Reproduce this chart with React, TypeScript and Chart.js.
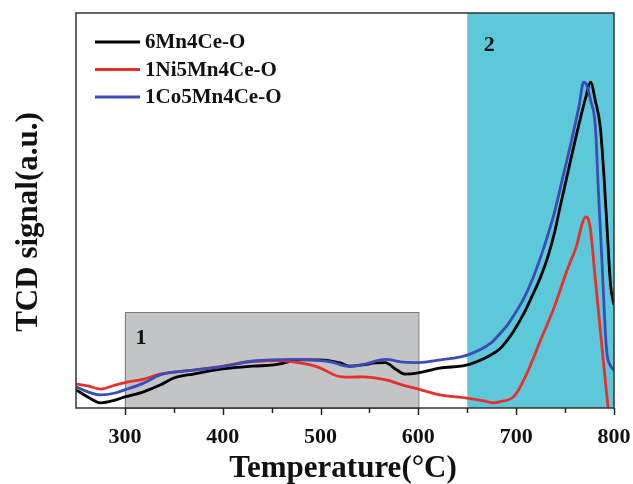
import React, { useEffect, useRef } from "react";
import { Chart, registerables } from "chart.js";

Chart.register(...registerables);

const seriesNames = ["6Mn4Ce-O", "1Ni5Mn4Ce-O", "1Co5Mn4Ce-O"];
const seriesColors = ["#000000", "#e8302a", "#3a4cb5"];

const blackT = [250, 262, 275, 290, 300, 319, 336, 350, 370, 400, 431, 452, 480, 500, 520, 530, 543, 556, 566, 578, 586, 600, 622, 650, 674, 684, 691, 698, 708, 716, 725, 732, 739, 745, 755, 765, 771, 776, 781, 786, 790, 793, 796.5, 800];
const blackV = [4.6, 2.8, 1.3, 2.0, 2.8, 4.1, 5.8, 7.6, 8.6, 9.9, 10.6, 10.9, 12.2, 12.2, 11.4, 10.6, 10.9, 11.4, 11.5, 9.6, 8.6, 8.9, 10.1, 10.9, 13.4, 15.1, 17.2, 19.7, 24.0, 28.2, 33.2, 38.0, 44.2, 51.0, 62.0, 72.7, 78.5, 82.5, 77.7, 71.1, 57.7, 45.1, 31.1, 26.1];

const redT = [250, 262, 275, 290, 300, 319, 336, 370, 400, 424, 455, 472, 490, 500, 517, 530, 543, 567, 584, 600, 622, 650, 667, 677, 684, 698, 711, 725, 739, 752, 762, 768, 771, 774, 776, 781, 786, 791, 794];
const redV = [6.1, 5.6, 4.8, 5.8, 6.4, 7.3, 8.6, 9.6, 10.6, 11.6, 12.0, 11.7, 10.9, 10.1, 8.1, 7.8, 7.9, 7.1, 5.8, 4.8, 3.3, 2.5, 1.8, 1.3, 1.6, 3.0, 8.8, 17.2, 25.6, 34.9, 41.3, 47.1, 48.4, 47.6, 45.1, 32.4, 19.7, 7.1, 0];

const blueT = [250, 262, 275, 290, 300, 319, 336, 370, 400, 431, 472, 500, 510, 530, 545, 566, 585, 600, 623, 650, 674, 684, 691, 698, 708, 716, 725, 732, 739, 747, 756, 764, 769, 772, 776, 781, 784, 787.5, 791, 793, 796, 800];
const blueV = [5.4, 4.1, 3.3, 3.8, 4.6, 6.3, 8.4, 9.6, 10.5, 11.9, 12.3, 12.0, 11.7, 10.5, 11.1, 12.3, 11.6, 11.5, 12.2, 13.4, 16.4, 19.0, 21.0, 23.6, 27.8, 32.2, 38.2, 43.5, 49.4, 57.7, 67.1, 76.1, 82.5, 81.8, 78.0, 71.1, 55.2, 38.2, 19.7, 13.4, 10.9, 9.6];

const xTickValues = [300, 400, 500, 600, 700, 800];
const region1 = { from: 300, to: 600, top: 24.3, label: "1" };
const region2 = { from: 650, to: 800, label: "2" };

const toPoints = (t: number[], v: number[]) => t.map((x, i) => ({ x, y: v[i] }));

const SERIF = "'Liberation Serif', 'DejaVu Serif', serif";

const decorPlugin = {
  id: "decor",
  beforeDatasetsDraw(chart: any) {
    const { ctx, chartArea, scales } = chart;
    const xs = scales.x;
    const ys = scales.y;
    ctx.save();
    const c1 = xs.getPixelForValue(region2.from);
    const c2 = xs.getPixelForValue(region2.to);
    ctx.fillStyle = "#5ec8db";
    ctx.fillRect(c1, chartArea.top, c2 - c1, chartArea.bottom - chartArea.top);
    const g1 = xs.getPixelForValue(region1.from);
    const g2 = xs.getPixelForValue(region1.to);
    const gt = ys.getPixelForValue(region1.top);
    ctx.fillStyle = "#c3c4c6";
    ctx.fillRect(g1, gt, g2 - g1, chartArea.bottom - gt);
    ctx.strokeStyle = "#777777";
    ctx.lineWidth = 1;
    ctx.strokeRect(g1 + 0.5, gt + 0.5, g2 - g1, chartArea.bottom - gt);
    ctx.fillStyle = "#111";
    ctx.font = `bold 22px ${SERIF}`;
    ctx.textAlign = "center";
    ctx.textBaseline = "middle";
    ctx.fillText(region1.label, g1 + 16, gt + 26);
    ctx.fillText(region2.label, c1 + 22, chartArea.top + 32);
    ctx.restore();
  },
  afterDraw(chart: any) {
    const { ctx, chartArea, scales } = chart;
    const xs = scales.x;
    ctx.save();
    ctx.strokeStyle = "#333";
    ctx.lineWidth = 1.5;
    ctx.strokeRect(chartArea.left, chartArea.top, chartArea.right - chartArea.left, chartArea.bottom - chartArea.top);
    ctx.strokeStyle = "#222";
    ctx.lineWidth = 1.5;
    for (let t = 300; t <= 800; t += 50) {
      const px = Math.round(xs.getPixelForValue(t)) + 0.5;
      const len = t % 100 === 0 ? 7 : 5;
      ctx.beginPath();
      ctx.moveTo(px, chartArea.bottom);
      ctx.lineTo(px, chartArea.bottom + len);
      ctx.stroke();
    }
    ctx.font = `bold 21px ${SERIF}`;
    ctx.textAlign = "left";
    ctx.textBaseline = "middle";
    seriesNames.forEach((name, i) => {
      const y = chartArea.top + 29 + i * 27.5;
      ctx.strokeStyle = seriesColors[i];
      ctx.lineWidth = 2.8;
      ctx.beginPath();
      ctx.moveTo(chartArea.left + 19, y);
      ctx.lineTo(chartArea.left + 64, y);
      ctx.stroke();
      ctx.fillStyle = "#111";
      ctx.fillText(name, chartArea.left + 69, y + 1);
    });
    ctx.fillStyle = "#111";
    ctx.font = `bold 31px ${SERIF}`;
    ctx.textAlign = "center";
    ctx.textBaseline = "alphabetic";
    ctx.fillText("Temperature(°C)", (chartArea.left + chartArea.right) / 2 - 2, 477);
    ctx.translate(37, 222);
    ctx.rotate(-Math.PI / 2);
    ctx.fillText("TCD signal(a.u.)", 0, 0);
    ctx.restore();
  },
};

export default function App() {
  const ref = useRef<HTMLCanvasElement | null>(null);
  useEffect(() => {
    if (!ref.current) return;
    const chart = new Chart(ref.current, {
      type: "line",
      data: {
        datasets: [
          { label: seriesNames[0], data: toPoints(blackT, blackV), borderColor: seriesColors[0], order: 2 },
          { label: seriesNames[1], data: toPoints(redT, redV), borderColor: seriesColors[1], order: 1 },
          { label: seriesNames[2], data: toPoints(blueT, blueV), borderColor: seriesColors[2], order: 0 },
        ].map((d) => ({ ...d, borderWidth: 2.8, pointRadius: 0, fill: false, cubicInterpolationMode: "monotone" as const })),
      },
      options: {
        animation: false,
        responsive: false,
        maintainAspectRatio: false,
        layout: { padding: { left: 76, right: 19, top: 13, bottom: 0 } },
        plugins: { legend: { display: false }, tooltip: { enabled: false } },
        scales: {
          x: {
            type: "linear",
            min: 250,
            max: 800,
            afterFit: (s: any) => { s.height = 76; s.paddingLeft = 0; s.paddingRight = 0; },
            afterBuildTicks: (s: any) => { s.ticks = xTickValues.map((v) => ({ value: v })); },
            grid: { display: false, drawTicks: false },
            border: { display: false },
            ticks: {
              padding: 16,
              color: "#111",
              font: { family: SERIF, size: 22, weight: "bold" },
              autoSkip: false,
              maxRotation: 0,
            },
          },
          y: { type: "linear", min: 0, max: 100, display: false },
        },
      },
      plugins: [decorPlugin],
    });
    return () => chart.destroy();
  }, []);
  return (
    <div style={{ position: "fixed", left: 0, top: 0, width: 633, height: 484, background: "#fff" }}>
      <canvas ref={ref} width={633} height={484} style={{ width: 633, height: 484 }} />
    </div>
  );
}
